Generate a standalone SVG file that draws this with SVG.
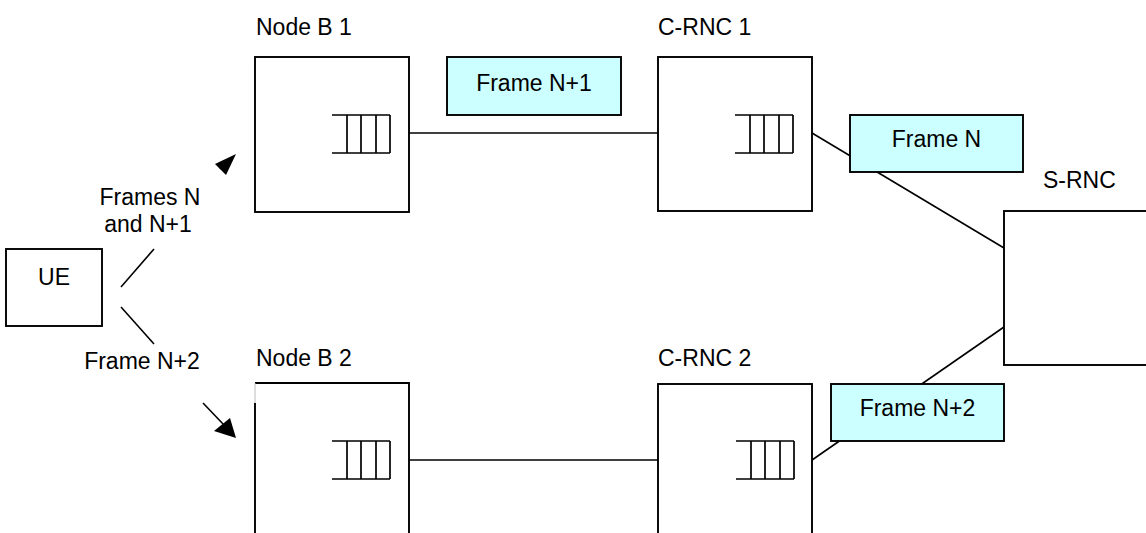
<svg xmlns="http://www.w3.org/2000/svg" width="1146" height="533" viewBox="0 0 1146 533">
<style>
.box{fill:#fff;stroke:#000;stroke-width:1.9}
.frame{fill:#ccffff;stroke:#000;stroke-width:1.9}
.ln{fill:none;stroke:#000;stroke-width:1.6}
.q{fill:none;stroke:#000;stroke-width:1.7}
text{font-family:"Liberation Sans",Arial,sans-serif;font-size:23px;fill:#000}
.c{text-anchor:middle}
</style>
<defs>
<g id="queue">
<path class="q" d="M0,0H58M0,38H58M15,0V38M29,0V38M44,0V38M58,0V38"/>
</g>
</defs>
<rect width="1146" height="533" fill="#fff"/>
<g id="connectors">
<line class="ln" x1="409" y1="133" x2="658" y2="133"/>
<line class="ln" x1="409" y1="460" x2="658" y2="460"/>
<line class="ln" x1="812" y1="133" x2="1004" y2="248"/>
<line class="ln" x1="812" y1="460" x2="1004" y2="327"/>
<line class="ln" x1="121" y1="287" x2="154" y2="249"/>
<line class="ln" x1="121" y1="307" x2="154" y2="344"/>
<line class="ln" x1="220" y1="169" x2="226" y2="163"/>
<polygon points="236,154 215,164 226,175" fill="#000"/>
<line class="ln" x1="203" y1="403" x2="224" y2="425"/>
<polygon points="236,438 214,431 230,418" fill="#000"/>
</g>
<g id="ue">
<rect class="box" x="6" y="249" width="96" height="77"/>
<text class="c" x="54" y="285">UE</text>
</g>
<g id="nodeb1">
<rect class="box" x="255" y="57" width="154" height="155"/>
<use href="#queue" x="332" y="115"/>
<text x="256" y="35">Node B 1</text>
</g>
<g id="crnc1">
<rect class="box" x="658" y="57" width="154" height="154"/>
<use href="#queue" x="735" y="115"/>
<text x="658" y="35">C-RNC 1</text>
</g>
<g id="nodeb2">
<rect x="255" y="383" width="154" height="200" fill="#fff"/>
<path class="ln" d="M255,403V540M255,383H409V540" style="stroke-width:1.9"/>
<line x1="255" y1="383" x2="255" y2="403" stroke="#bbb" stroke-width="1"/>
<use href="#queue" x="332" y="441"/>
<text x="256" y="366">Node B 2</text>
</g>
<g id="crnc2">
<rect class="box" x="658" y="384" width="154" height="200"/>
<use href="#queue" x="736" y="441"/>
<text x="658" y="366">C-RNC 2</text>
</g>
<g id="srnc">
<rect class="box" x="1004" y="211" width="160" height="154"/>
<text x="1043" y="188">S-RNC</text>
</g>
<g id="frameN1">
<rect class="frame" x="447" y="57" width="174" height="58"/>
<text class="c" x="534" y="91">Frame N+1</text>
</g>
<g id="frameN">
<rect class="frame" x="850" y="115" width="173" height="57"/>
<text class="c" x="936.5" y="147">Frame N</text>
</g>
<g id="frameN2">
<rect class="frame" x="831" y="384" width="173" height="57"/>
<text class="c" x="917.5" y="416">Frame N+2</text>
</g>
<g id="labels">
<text class="c" x="150" y="205">Frames N</text>
<text class="c" x="148" y="232">and N+1</text>
<text class="c" x="142" y="369">Frame N+2</text>
</g>
</svg>
